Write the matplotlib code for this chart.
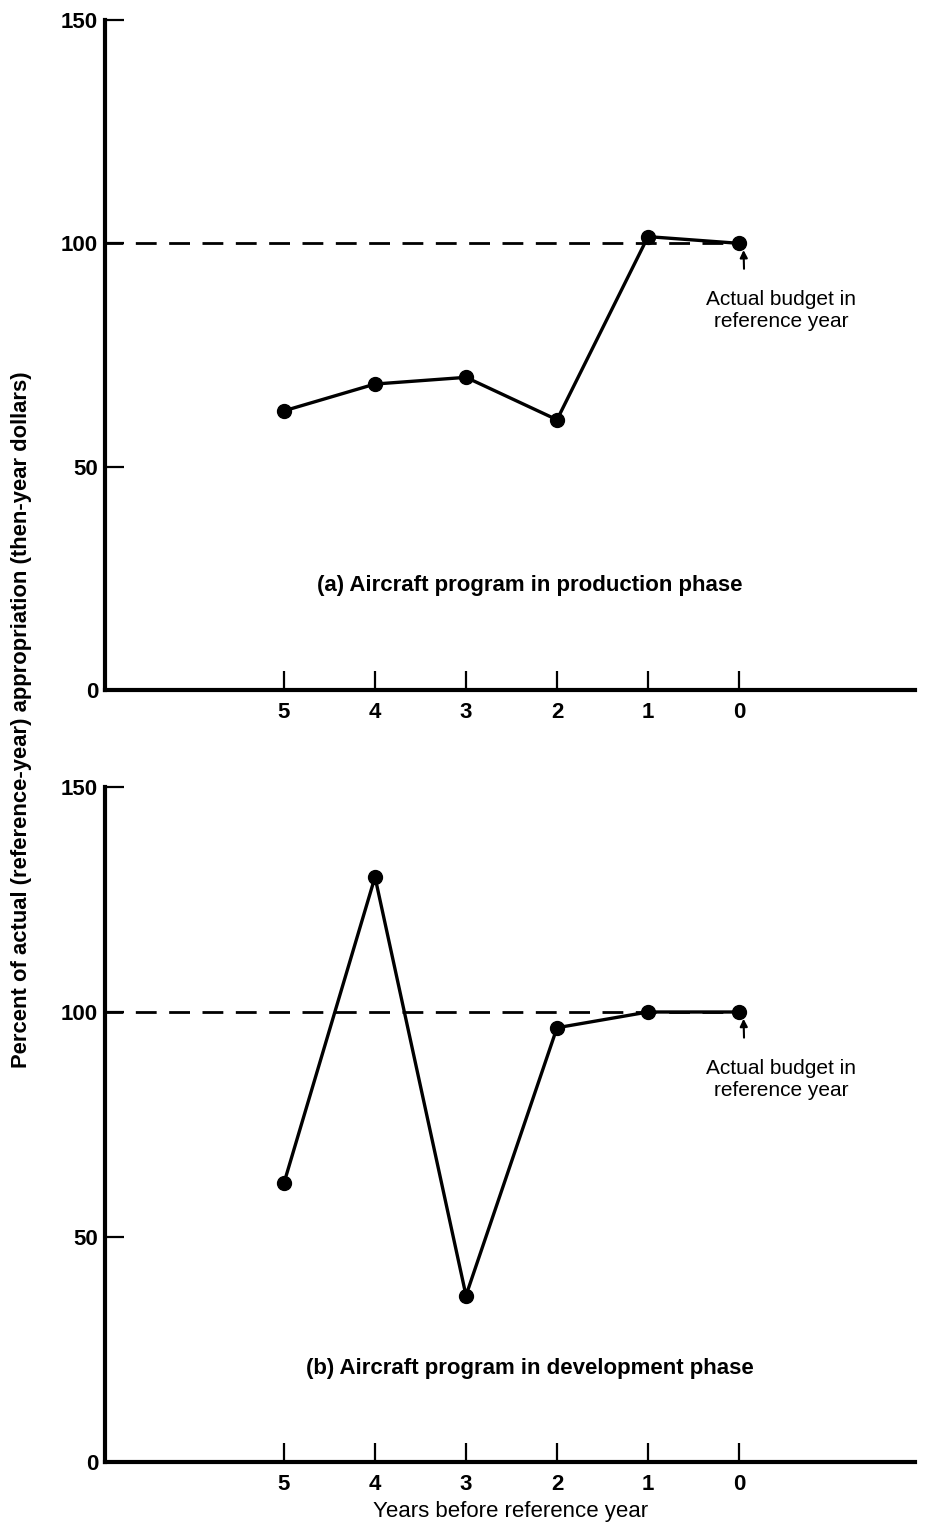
import matplotlib.pyplot as plt
from matplotlib import font_manager

# data
years = [5, 4, 3, 2, 1, 0]
production = [62.5, 68.5, 70.0, 60.5, 101.5, 100.0]
development = [62.0, 130.0, 37.0, 96.5, 100.0, 100.0]
yticks = [0, 50, 100, 150]
captions = ["(a) Aircraft program in production phase",
            "(b) Aircraft program in development phase"]

names = {f.name for f in font_manager.fontManager.ttflist}
narrow = "Liberation Sans Narrow" if "Liberation Sans Narrow" in names else "Liberation Sans"
plt.rcParams['font.family'] = ['Liberation Sans', 'DejaVu Sans']

W, H = 934, 1527
fig = plt.figure(figsize=(W / 100, H / 100), dpi=100)


def panel(rect, values, caption, cap_y):
    ax = fig.add_axes(rect)
    ax.plot(years, values, color='black', lw=2.4, marker='o', ms=10,
            solid_joinstyle='round', zorder=3)
    ax.plot([7, 0], [100, 100], color='black', lw=2.0,
            linestyle=(0, (7.5, 4.5)), zorder=2)
    ax.set_xlim(6.967, -1.934)
    ax.set_ylim(0, 150)
    for s in ['top', 'right']:
        ax.spines[s].set_visible(False)
    for s in ['left', 'bottom']:
        ax.spines[s].set_linewidth(3)
    ax.set_xticks(years)
    ax.set_yticks(yticks)
    ax.tick_params(axis='both', direction='in', length=14, width=1.6,
                   labelsize=16)
    ax.tick_params(axis='x', pad=9)
    ax.tick_params(axis='y', pad=5)
    for lab in ax.get_xticklabels() + ax.get_yticklabels():
        lab.set_fontweight('bold')
        lab.set_family(narrow)
    ax.text(2.3, cap_y, caption, ha='center', va='center',
            fontsize=16, fontweight='bold')
    ax.text(-0.46, 85, "Actual budget in\nreference year", ha='center',
            va='center', fontsize=15, linespacing=1.2)
    ax.annotate("", xy=(-0.05, 98.5), xytext=(-0.055, 94.3),
                arrowprops=dict(arrowstyle='-|>', color='black', lw=1.5,
                                mutation_scale=11, shrinkA=0, shrinkB=0))
    return ax


panel([105 / W, 1 - 690 / H, 810 / W, 670 / H], production, captions[0], 23.3)
panel([105 / W, 1 - 1462 / H, 810 / W, 675 / H], development, captions[1], 20.7)

fig.text(22 / W, 1 - 720 / H,
         "Percent of actual (reference-year) appropriation (then-year dollars)",
         rotation=90, ha='center', va='center', fontsize=15.8,
         fontweight='bold', family=narrow)
fig.text(511 / W, 1 - 1512 / H, "Years before reference year",
         ha='center', va='center', fontsize=16, family=narrow)

fig.savefig("out.png", dpi=100)
